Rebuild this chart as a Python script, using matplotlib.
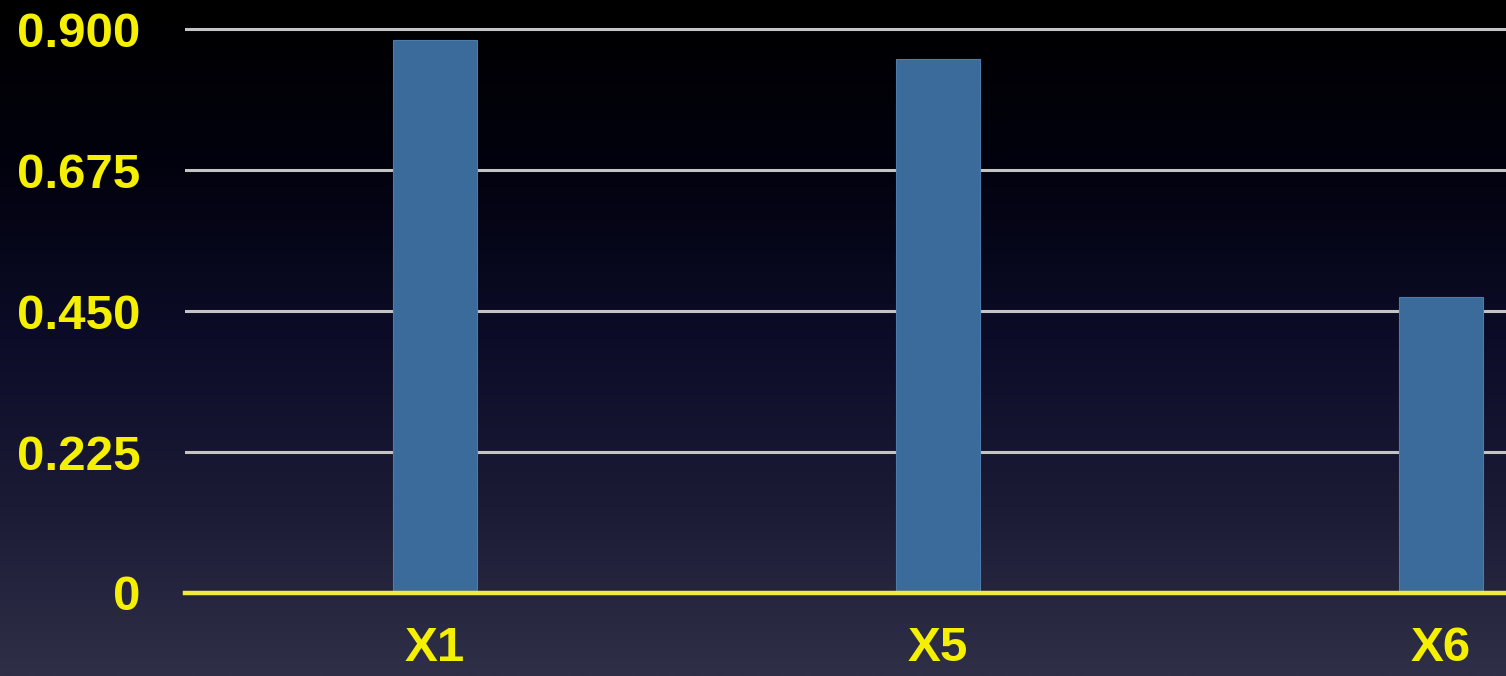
import numpy as np
import matplotlib
matplotlib.use("Agg")
import matplotlib.pyplot as plt
from matplotlib.colors import LinearSegmentedColormap

# data
categories = ["X1", "X5", "X6"]
values = [0.882, 0.852, 0.472]
yticks = [0, 0.225, 0.450, 0.675, 0.900]
ytick_labels = ["0", "0.225", "0.450", "0.675", "0.900"]

plt.rcParams['font.family'] = ['Liberation Sans', 'DejaVu Sans']

fig = plt.figure(figsize=(15.06, 6.76), dpi=100)

# gradient background, black at the top, dusky blue at the bottom
bg = fig.add_axes([0, 0, 1, 1])
cmap = LinearSegmentedColormap.from_list(
    "bg", [(0.0, "#000000"), (0.25, "#02020f"), (0.5, "#0c0c28"),
           (0.75, "#1b1b36"), (1.0, "#2f2f47")])
grad = np.linspace(0, 1, 256).reshape(-1, 1)
bg.imshow(grad, aspect="auto", cmap=cmap, extent=[0, 1, 0, 1], origin="upper")
bg.axis("off")

W, H = 1506, 676
ax = fig.add_axes([185 / W, 83 / H, 1 - 185 / W, 576.5 / H])
ax.patch.set_alpha(0)

x = np.arange(len(categories))
for yt in yticks[1:]:
    ax.axhline(yt, color="#c4c4c4", linewidth=2.2, zorder=1)
ax.bar(x, values, width=0.167, color="#3b6b9b", edgecolor="#4d7cab", linewidth=0.8, zorder=2)
ax.axhline(0, color="#f2ea3c", linewidth=3.2, zorder=3, clip_on=False)

ax.set_xlim(-0.497, (W - 435) / 503)
ax.set_ylim(0, 0.92)
ax.set_yticks(yticks)
ax.set_yticklabels(ytick_labels)
ax.set_xticks(x)
ax.set_xticklabels(categories)
ax.tick_params(axis="y", length=0, pad=32, labelsize=35.5, labelcolor="#f5f000")
ax.tick_params(axis="x", length=0, pad=24, labelsize=35.5, labelcolor="#f5f000")
for lbl in ax.get_xticklabels() + ax.get_yticklabels():
    lbl.set_fontweight("bold")
for s in ax.spines.values():
    s.set_visible(False)

fig.savefig("out.png", dpi=100)
